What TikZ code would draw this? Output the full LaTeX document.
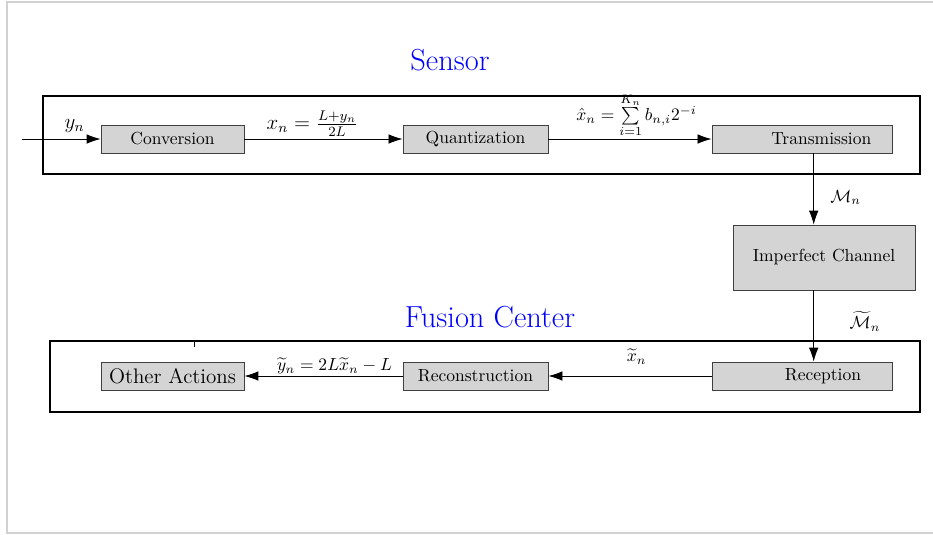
\documentclass[tikz,border=0pt]{standalone}
\usepackage{amsmath,amssymb}
\usepackage{tikz}
\usetikzlibrary{arrows.meta}

\begin{document}
\begin{tikzpicture}[x=0.5714pt, y=-0.5714pt,
        blockbox/.style={draw=black!75, fill=black!17, line width=0.5pt, minimum height=16pt, inner sep=2pt},
        groupbox/.style={draw=black, line width=1.1pt},
        flow/.style={-{Latex[length=8pt, width=5.5pt]}, line width=0.5pt, black},
        grouptitle/.style={blue, font=\fontsize{17.4}{21}\selectfont}]
                \useasboundingbox (0,0) rectangle (933,534);

                % Page frame
                \draw[black!18, line width=0.6pt] (940,2) -- (7,2) -- (7,533) -- (940,533);

                % Sensor
                \node[grouptitle] (sensortitle) at (450,60) {Sensor};
                \draw[groupbox] (43,96) rectangle (920,174);
                \node[blockbox, minimum width=81.7pt] (conv) at (172.5,139) {Conversion};
                \node[blockbox, minimum width=82.9pt] (quant) at (475.5,139) {Quantization};
                \node[blockbox, minimum width=102.9pt] (trans) at (802,139) {\hspace*{22pt}Transmission};

                % Channel
                \node[blockbox, minimum width=104pt, minimum height=37.1pt] (chan) at (824,257.5) {Imperfect Channel};

                % Fusion Center
                \node[grouptitle] (fusiontitle) at (490,317) {Fusion Center};
                \draw[groupbox] (50,341) rectangle (920,412);
                \draw[black, line width=0.5pt] (194,341) -- (194,347);
                \node[blockbox, minimum width=81.7pt, font=\large] (other) at (172.5,376) {Other Actions};
                \node[blockbox, minimum width=82.9pt] (recon) at (475.5,376) {Reconstruction};
                \node[blockbox, minimum width=102.9pt] (recv) at (802,376) {\hspace*{24pt}Reception};

                % Connectors
                \coordinate (input) at (22,139);
                \coordinate (drop) at (813.7,0);
                \draw[flow] (input) -- (conv.west) node[pos=0.67, above, font=\large] {$y_n$};
                \draw[flow] (conv.east) -- (quant.west)
                    node[pos=0.43, above, inner sep=1pt, font=\large] {$x_n = \frac{L+y_n}{2L}$};
                \draw[flow] (quant.east) -- (trans.west)
                    node[pos=0.54, above, inner sep=0.5pt] {$\hat{x}_n = \sum\limits_{i=1}^{K_n} b_{n,i}2^{-i}$};
                \draw[flow] (trans.south -| drop) -- (chan.north -| drop)
                    node[pos=0.62, right=6pt] {$\mathcal{M}_n$};
                \draw[flow] (chan.south -| drop) -- (recv.north -| drop)
                    node[pos=0.43, right=17pt] {$\widetilde{\mathcal{M}}_n$};
                \draw[flow] (recv.west) -- (recon.east)
                    node[pos=0.46, above=3pt] {$\widetilde{x}_n$};
                \draw[flow] (recon.west) -- (other.east)
                    node[pos=0.43, above, inner sep=1pt] {$\widetilde{y}_n = 2L\widetilde{x}_n - L$};
            \end{tikzpicture}
\end{document}
